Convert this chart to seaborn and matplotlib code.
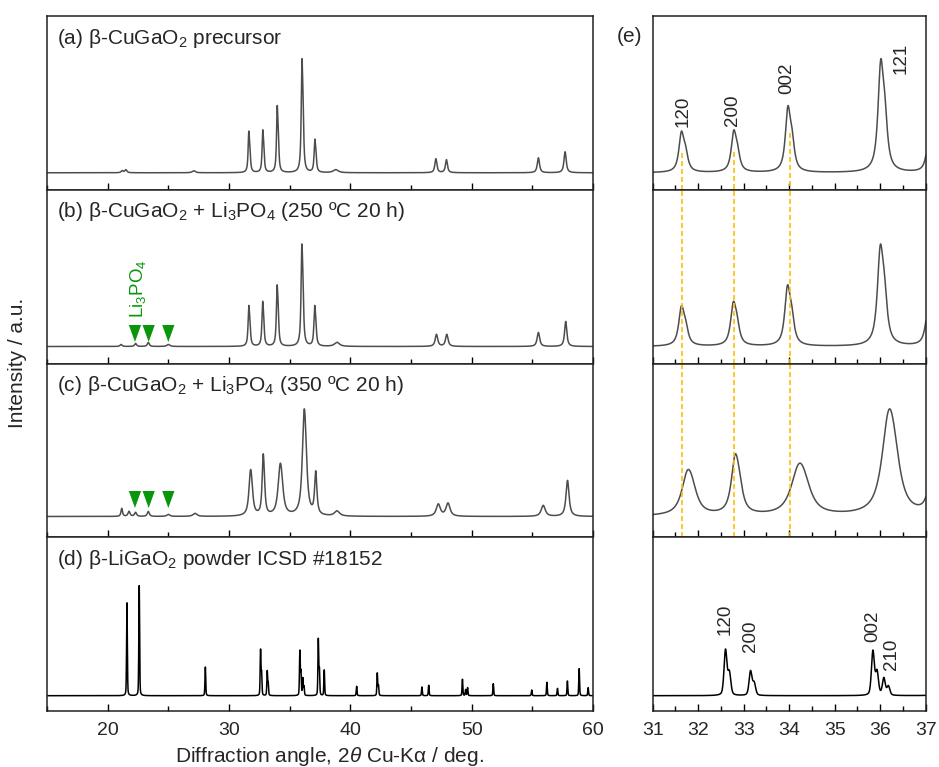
import numpy as np
import pandas as pd
import matplotlib
matplotlib.use("Agg")
import matplotlib.pyplot as plt
import seaborn as sns
from matplotlib.ticker import MultipleLocator

# ---------------- data: peak lists (2theta, height, FWHM) ----------------
a_pos = [21.2, 21.5, 27.1, 31.63, 31.72, 32.78, 32.86, 33.97, 34.06, 36.01, 36.10,
         37.07, 37.16, 38.8, 47.05, 47.92, 55.5, 57.7]
a_hgt = [2, 3, 2, 36, 16, 36, 16, 58, 26, 97, 44, 28, 13, 3, 14, 13, 15, 21]
a_wid = [0.2, 0.2, 0.3, 0.13, 0.13, 0.13, 0.13, 0.13, 0.13, 0.14, 0.14,
         0.14, 0.14, 0.5, 0.2, 0.2, 0.22, 0.22]

b_pos = [21.1, 22.3, 23.35, 25.0, 31.63, 31.72, 32.77, 32.85, 33.96, 34.05, 36.0, 36.09,
         37.06, 37.15, 38.9, 47.1, 47.95, 55.5, 57.75]
b_hgt = [2, 3, 4, 2, 35, 15, 37, 17, 52, 24, 85, 40, 34, 15, 4, 12, 12, 14, 25]
b_wid = [0.2, 0.2, 0.2, 0.3, 0.14, 0.14, 0.14, 0.14, 0.14, 0.14, 0.15, 0.15,
         0.15, 0.15, 0.5, 0.25, 0.25, 0.25, 0.22]

c_pos = [21.16, 21.76, 22.3, 23.35, 25.0, 27.2, 31.76, 31.86, 32.81, 32.9, 34.2, 34.32,
         36.18, 36.3, 37.15, 38.9, 47.25, 48.05, 55.9, 57.9]
c_hgt = [8, 5, 4, 5, 2, 3, 34, 16, 50, 18, 36, 20, 80, 36, 42, 5, 12, 13, 11, 36]
c_wid = [0.15, 0.2, 0.2, 0.2, 0.3, 0.4, 0.3, 0.3, 0.2, 0.2, 0.4, 0.4,
         0.35, 0.35, 0.22, 0.5, 0.4, 0.4, 0.4, 0.3]

d_pos = [21.59, 22.60, 28.05, 32.60, 32.685, 33.15, 33.23, 35.84, 35.93, 36.08, 36.18,
         37.36, 37.45, 37.85, 40.52, 42.22, 42.32, 45.90, 46.46, 49.24, 49.5, 49.66,
         51.78, 54.95, 56.2, 57.07, 57.89, 58.86, 59.6]
d_hgt = [93, 110, 28.7, 45, 22, 24, 12, 44, 23, 17, 9,
         55.8, 25, 25.7, 9.4, 22.4, 10, 8.7, 10.4, 16.4, 6, 8,
         12, 5.7, 13.4, 7.3, 14.7, 27, 8]
d_wid = 0.075

li3po4_marks = [22.25, 23.38, 25.0]
dash_x = [31.64, 32.79, 34.02]
dash_top = [20, 21, 40]

panel_labels = [r"(a) β-CuGaO$_2$ precursor",
                r"(b) β-CuGaO$_2$ + Li$_3$PO$_4$ (250 ºC 20 h)",
                r"(c) β-CuGaO$_2$ + Li$_3$PO$_4$ (350 ºC 20 h)",
                r"(d) β-LiGaO$_2$ powder ICSD #18152"]
hkl_a = ["120", "200", "002", "121"]
hkl_a_x = [31.67, 32.76, 33.95, 36.45]
hkl_a_y = [62, 63, 95, 115]
hkl_d = ["120", "200", "002", "210"]
hkl_d_x = [32.59, 33.14, 35.84, 36.25]
hkl_d_y = [76, 59, 69, 41]

# ---------------- build patterns ----------------
tth = np.arange(15.0, 60.0001, 0.004)


def pattern(pos, hgt, wid, eta):
    wid = np.broadcast_to(np.asarray(wid, float), (len(pos),))
    y = np.zeros_like(tth)
    for p, h, w in zip(pos, hgt, wid):
        u = (tth - p) / (w / 2)
        y += h * (eta / (1 + u ** 2) + (1 - eta) * np.exp(-np.log(2) * u ** 2))
    return y


dfs = [pd.DataFrame({"tth": tth, "I": pattern(a_pos, a_hgt, a_wid, 0.85)}),
       pd.DataFrame({"tth": tth, "I": pattern(b_pos, b_hgt, b_wid, 0.85)}),
       pd.DataFrame({"tth": tth, "I": pattern(c_pos, c_hgt, c_wid, 0.85)}),
       pd.DataFrame({"tth": tth, "I": pattern(d_pos, d_hgt, d_wid, 0.35)})]
colors = ["#4d4d4d", "#4d4d4d", "#4d4d4d", "black"]
ylims = [(-17, 157), (-17, 156.75), (-20.75, 153), (-15.3, 158.45)]

# ---------------- figure ----------------
sns.set_style("ticks")
plt.rcParams["font.family"] = ["Liberation Sans", "DejaVu Sans"]
plt.rcParams["mathtext.fontset"] = "custom"
plt.rcParams["mathtext.rm"] = "Liberation Sans"
plt.rcParams["mathtext.it"] = "Liberation Sans:italic"
plt.rcParams["mathtext.bf"] = "Liberation Sans:bold"

W, H = 939, 767
fig = plt.figure(figsize=(W / 100, H / 100), dpi=100)
top_px, row_px = 16, 173.75
FS_LAB = 15
FS_TICK = 14
FS_HKL = 13.5
green = "#0a960a"
orange = "#ffbf00"
tri = [(-0.36, 0.5), (0.36, 0.5), (0.0, -0.5)]

for i in range(4):
    bottom = (H - top_px - (i + 1) * row_px) / H
    axL = fig.add_axes([47 / W, bottom, 546 / W, row_px / H])
    axR = fig.add_axes([652.7 / W, bottom, 273 / W, row_px / H])
    for ax, xl, maj, mnr in [(axL, (15, 60), 10, 5), (axR, (31, 37), 1, 0.5)]:
        sns.lineplot(data=dfs[i], x="tth", y="I", ax=ax, color=colors[i], lw=1.1,
                     estimator=None, sort=False)
        ax.set_xlim(*xl)
        ax.set_ylim(*ylims[i])
        ax.set_yticks([])
        ax.set_xlabel("")
        ax.set_ylabel("")
        ax.xaxis.set_major_locator(MultipleLocator(maj))
        ax.xaxis.set_minor_locator(MultipleLocator(mnr))
        ax.tick_params(axis="x", which="major", direction="in", length=5, width=1.0,
                       labelsize=FS_TICK, pad=8, top=False, color="black")
        ax.tick_params(axis="x", which="minor", direction="in", length=3.5, width=1.0,
                       top=False, color="black")
        for s in ax.spines.values():
            s.set_visible(True)
            s.set_linewidth(1.1)
            s.set_color("#222222")
        if i < 3:
            ax.tick_params(axis="x", labelbottom=False)
    axL.text(10 / 546, 1 - 22 / row_px, panel_labels[i], transform=axL.transAxes,
             fontsize=FS_LAB, va="center", ha="left")
    # Li3PO4 markers
    if i in (1, 2):
        ymark = 13 if i == 1 else 17
        sns.scatterplot(x=li3po4_marks, y=[ymark] * 3, ax=axL, marker=tri, s=150,
                        color=green, edgecolor="none", linewidth=0)
    if i == 1:
        axL.text(22.5, 58, r"Li$_3$PO$_4$", rotation=90, color=green, fontsize=13.5,
                 ha="center", va="center")
    # dashed guide lines
    if i == 0:
        for xv, yt in zip(dash_x, dash_top):
            axR.plot([xv, xv], [yt, ylims[0][0]], ls=(0, (3, 1.8)), color=orange, lw=1.2)
        for t, xx, yy in zip(hkl_a, hkl_a_x, hkl_a_y):
            axR.text(xx, yy, t, rotation=90, fontsize=FS_HKL, ha="center", va="center")
    elif i in (1, 2):
        for xv in dash_x:
            axR.axvline(xv, ls=(0, (3, 1.8)), color=orange, lw=1.2)
    else:
        for t, xx, yy in zip(hkl_d, hkl_d_x, hkl_d_y):
            axR.text(xx, yy, t, rotation=90, fontsize=FS_HKL, ha="center", va="center")

fig.text(18 / W, 1 - 363 / H, "Intensity / a.u.", rotation=90, fontsize=FS_LAB,
         ha="center", va="center")
fig.text(329 / W, 1 - 756 / H, r"Diffraction angle, 2$\it{\theta}$ Cu-Kα / deg.",
         fontsize=FS_LAB, ha="center", va="center")
fig.text(630 / W, 1 - 36 / H, "(e)", fontsize=FS_LAB, ha="center", va="center")

fig.savefig("out.png", dpi=100)
